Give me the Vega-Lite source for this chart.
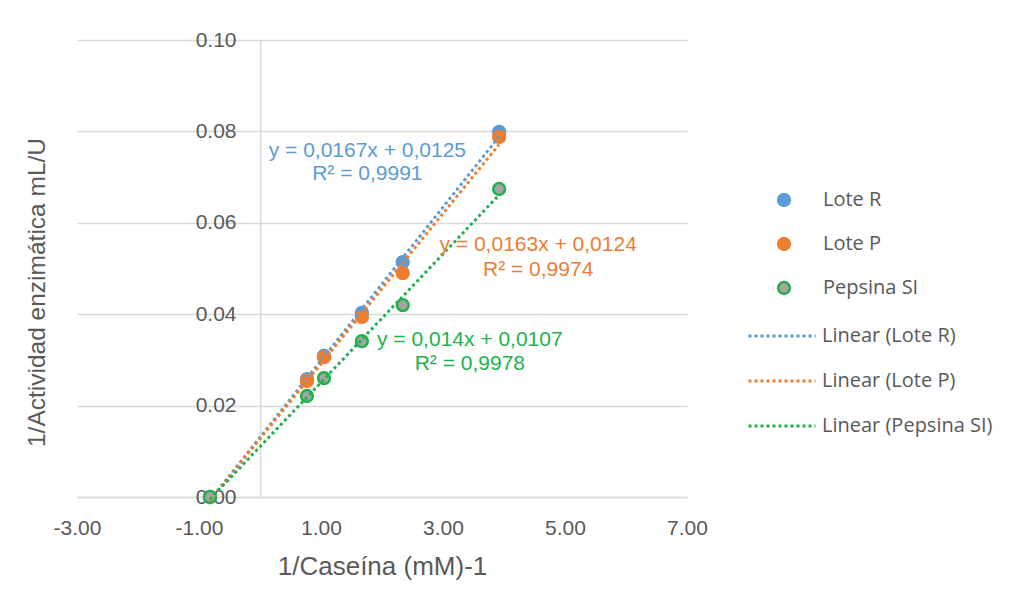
{
  "$schema": "https://vega.github.io/schema/vega-lite/v6.json",
  "width": 610,
  "height": 457,
  "autosize": {"type": "none"},
  "padding": {"left": 77, "top": 40, "right": 328, "bottom": 113},
  "background": "white",
  "config": {"view": {"stroke": null}, "font": "Liberation Sans"},
  "datasets": {
    "pts": [
      {"serie": "Lote R", "trend": "Linear (Lote R)", "x": -0.82, "y": 0},
      {"serie": "Lote R", "trend": "Linear (Lote R)", "x": 0.77, "y": 0.0258},
      {"serie": "Lote R", "trend": "Linear (Lote R)", "x": 1.05, "y": 0.0309},
      {"serie": "Lote R", "trend": "Linear (Lote R)", "x": 1.67, "y": 0.0403},
      {"serie": "Lote R", "trend": "Linear (Lote R)", "x": 2.34, "y": 0.0514},
      {"serie": "Lote R", "trend": "Linear (Lote R)", "x": 3.92, "y": 0.0799},
      {"serie": "Lote P", "trend": "Linear (Lote P)", "x": -0.82, "y": 0},
      {"serie": "Lote P", "trend": "Linear (Lote P)", "x": 0.77, "y": 0.0254},
      {"serie": "Lote P", "trend": "Linear (Lote P)", "x": 1.05, "y": 0.0306},
      {"serie": "Lote P", "trend": "Linear (Lote P)", "x": 1.67, "y": 0.0394},
      {"serie": "Lote P", "trend": "Linear (Lote P)", "x": 2.34, "y": 0.049},
      {"serie": "Lote P", "trend": "Linear (Lote P)", "x": 3.92, "y": 0.0788},
      {"serie": "Pepsina SI", "trend": "Linear (Pepsina SI)", "x": -0.82, "y": 0},
      {"serie": "Pepsina SI", "trend": "Linear (Pepsina SI)", "x": 0.77, "y": 0.0221},
      {"serie": "Pepsina SI", "trend": "Linear (Pepsina SI)", "x": 1.05, "y": 0.026},
      {"serie": "Pepsina SI", "trend": "Linear (Pepsina SI)", "x": 1.67, "y": 0.0341},
      {"serie": "Pepsina SI", "trend": "Linear (Pepsina SI)", "x": 2.34, "y": 0.042},
      {"serie": "Pepsina SI", "trend": "Linear (Pepsina SI)", "x": 3.92, "y": 0.0674}
    ],
    "eq": [
      {"serie": "Lote R", "x": 1.76, "y": 0.0758, "txt": "y = 0,0167x + 0,0125"},
      {"serie": "Lote R", "x": 1.76, "y": 0.0707, "txt": "R² = 0,9991"},
      {"serie": "Lote P", "x": 4.56, "y": 0.0552, "txt": "y = 0,0163x + 0,0124"},
      {"serie": "Lote P", "x": 4.56, "y": 0.0497, "txt": "R² = 0,9974"},
      {"serie": "Pepsina SI", "x": 3.44, "y": 0.0344, "txt": "y = 0,014x + 0,0107"},
      {"serie": "Pepsina SI", "x": 3.44, "y": 0.0291, "txt": "R² = 0,9978"}
    ]
  },
  "encoding": {
    "x": {
      "field": "x", "type": "quantitative",
      "scale": {"domain": [-3, 7], "nice": false, "zero": false},
      "axis": {
        "title": "1/Caseína (mM)-1",
        "values": [-3, -1, 1, 3, 5, 7],
        "format": ".2f",
        "labelExpr": "replace(datum.label, '\u2212', '-')",
        "labelFlush": false,
        "grid": false,
        "ticks": false,
        "domain": true,
        "domainColor": "#d9d9d9",
        "domainWidth": 1.5,
        "labelFontSize": 21,
        "labelColor": "#595959",
        "labelPadding": 20,
        "titleFontSize": 26,
        "titleFontWeight": "normal",
        "titleColor": "#595959",
        "titlePadding": 15
      }
    },
    "y": {
      "field": "y", "type": "quantitative",
      "scale": {"domain": [0, 0.1], "nice": false},
      "axis": {
        "title": "1/Actividad enzimática mL/U",
        "values": [0, 0.02, 0.04, 0.06, 0.08, 0.1],
        "format": ".2f",
        "offset": -183,
        "grid": true,
        "gridColor": "#d9d9d9",
        "gridWidth": 1.5,
        "ticks": false,
        "domainColor": "#d9d9d9",
        "domainWidth": 1.5,
        "labelFontSize": 21,
        "labelColor": "#595959",
        "labelPadding": 24,
        "titleFontSize": 24.5,
        "titleFontWeight": "normal",
        "titleColor": "#595959",
        "titleX": -223,
        "titleY": 252,
        "titleAngle": 270,
        "titleAlign": "center",
        "titleBaseline": "middle"
      }
    }
  },
  "layer": [
    {
      "data": {"name": "pts"},
      "mark": {"type": "point", "shape": "circle", "filled": true, "size": 140, "strokeWidth": 2.5, "opacity": 1},
      "encoding": {
        "fill": {
          "field": "serie", "type": "nominal",
          "scale": {"domain": ["Lote R", "Lote P", "Pepsina SI"], "range": ["#5B9BD5", "#ED7D31", "#A5A5A5"]},
          "legend": {"orient": "none", "legendX": 697, "legendY": 150, "title": null, "padding": 0,
                     "labelFont": "Open Sans", "labelFontSize": 20, "labelColor": "#595959", "labelLimit": 400,
                     "symbolType": "circle", "symbolSize": 140, "symbolStrokeWidth": 2.5,
                     "labelOffset": 29, "rowPadding": 22}
        },
        "stroke": {
          "field": "serie", "type": "nominal",
          "scale": {"domain": ["Lote R", "Lote P", "Pepsina SI"], "range": ["#5B9BD5", "#ED7D31", "#22B14C"]},
          "legend": {"orient": "none", "legendX": 697, "legendY": 150, "title": null, "padding": 0,
                     "labelFont": "Open Sans", "labelFontSize": 20, "labelColor": "#595959", "labelLimit": 400,
                     "symbolType": "circle", "symbolSize": 140, "symbolStrokeWidth": 2.5,
                     "labelOffset": 29, "rowPadding": 22}
        }
      }
    },
    {
      "data": {"name": "pts"},
      "transform": [{"regression": "y", "on": "x", "groupby": ["trend"]}],
      "mark": {"type": "line", "strokeDash": [3, 3], "strokeWidth": 3},
      "encoding": {
        "color": {
          "field": "trend", "type": "nominal",
          "scale": {"domain": ["Linear (Lote R)", "Linear (Lote P)", "Linear (Pepsina SI)"], "range": ["#5B9BD5", "#ED7D31", "#22B14C"]},
          "legend": {"orient": "none", "legendX": 670, "legendY": 261, "title": null, "padding": 0,
                     "labelFont": "Open Sans", "labelFontSize": 20, "labelColor": "#595959", "labelLimit": 400,
                     "symbolType": "stroke", "symbolSize": 4489, "symbolStrokeWidth": 3, "symbolDash": [3, 3],
                     "labelOffset": 5, "rowPadding": -22}
        }
      }
    },
    {
      "data": {"name": "eq"},
      "transform": [{"filter": "datum.serie === 'Lote R'"}],
      "mark": {"type": "text", "fontSize": 21, "color": "#5B9BD5", "align": "center", "baseline": "middle"},
      "encoding": {"text": {"field": "txt"}}
    },
    {
      "data": {"name": "eq"},
      "transform": [{"filter": "datum.serie === 'Lote P'"}],
      "mark": {"type": "text", "fontSize": 21, "color": "#ED7D31", "align": "center", "baseline": "middle"},
      "encoding": {"text": {"field": "txt"}}
    },
    {
      "data": {"name": "eq"},
      "transform": [{"filter": "datum.serie === 'Pepsina SI'"}],
      "mark": {"type": "text", "fontSize": 21, "color": "#22B14C", "align": "center", "baseline": "middle"},
      "encoding": {"text": {"field": "txt"}}
    }
  ]
}
